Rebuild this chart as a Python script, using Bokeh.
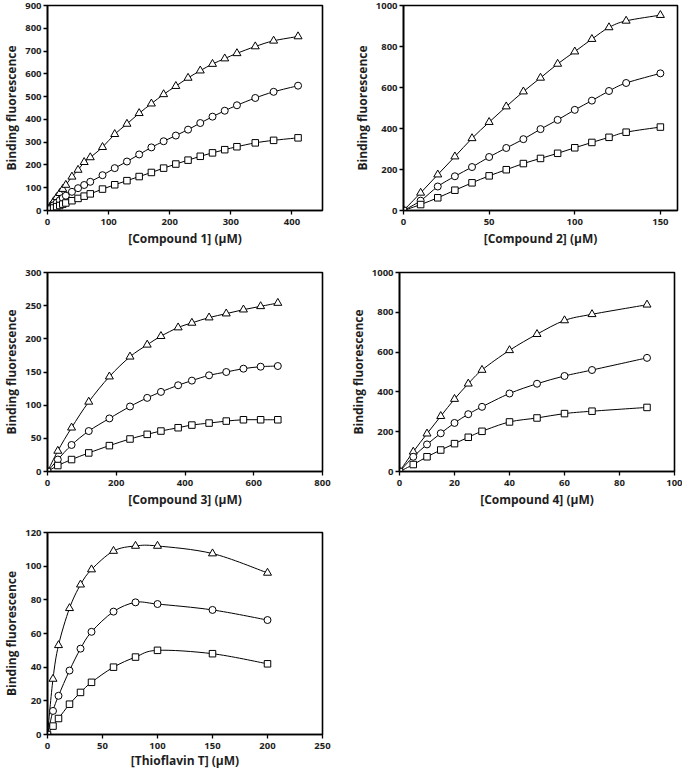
import numpy as np
from bokeh.plotting import figure
from bokeh.layouts import row, column
from bokeh.models import FixedTicker, Range1d
from bokeh.embed import file_html
from bokeh.resources import INLINE

# ---------------- data ----------------
# Compound 1
c1_x = [0, 5, 10, 15, 20, 25, 30, 40, 50, 60, 70, 90, 110, 130, 150, 170, 190, 210, 230, 250, 270, 290, 310, 340, 370, 410]
c1_tri = [0, 20, 40, 58, 76, 94, 112, 148, 178, 212, 233, 278, 335, 380, 427, 469, 510, 546, 582, 614, 643, 667, 690, 720, 745, 764]
c1_circ = [0, 12, 23, 34, 45, 55, 65, 82, 98, 112, 126, 155, 186, 215, 246, 277, 304, 329, 355, 384, 412, 438, 462, 494, 521, 548]
c1_sq = [0, 6, 11, 17, 22, 28, 33, 43, 53, 63, 73, 94, 113, 131, 149, 167, 186, 204, 221, 238, 253, 267, 280, 297, 308, 319]

# Compound 2
c2_x = [0, 10, 20, 30, 40, 50, 60, 70, 80, 90, 100, 110, 120, 130, 150]
c2_tri = [0, 86, 175, 263, 352, 431, 507, 580, 647, 715, 775, 836, 893, 925, 953]
c2_circ = [0, 48, 117, 167, 212, 261, 305, 348, 397, 442, 491, 536, 583, 622, 669]
c2_sq = [0, 29, 62, 99, 135, 169, 199, 229, 254, 279, 306, 332, 357, 382, 407]

# Compound 3
c3_x = [0, 30, 70, 120, 180, 240, 290, 330, 380, 420, 470, 520, 570, 620, 670]
c3_tri = [0, 31, 66, 105, 143, 173, 191, 204, 217, 224, 232, 238, 244, 249, 254]
c3_circ = [0, 18, 40, 61, 80, 98, 111, 120, 130, 137, 145, 150, 155, 158, 159]
c3_sq = [0, 9, 18, 28, 39, 49, 56, 61, 66, 70, 73, 76, 78, 78, 78]

# Compound 4
c4_x = [0, 5, 10, 15, 20, 25, 30, 40, 50, 60, 70, 90]
c4_tri = [0, 99, 190, 278, 364, 441, 510, 609, 690, 759, 790, 838]
c4_circ = [0, 74, 136, 192, 244, 288, 325, 392, 441, 480, 510, 571]
c4_sq = [0, 35, 74, 108, 140, 172, 202, 249, 269, 291, 303, 322]

# Thioflavin T
c5_x = [0, 5, 10, 20, 30, 40, 60, 80, 100, 150, 200]
c5_tri = [0, 33, 53, 75, 89, 98, 109, 112, 112, 107.5, 96]
c5_circ = [0, 14, 23, 38, 51, 61, 73, 78.5, 77.5, 74, 68]
c5_sq = [0, 5, 9.5, 18, 25, 31, 40, 46, 50, 48, 42]

x_labels = ["[Compound 1] (\u00b5M)", "[Compound 2] (\u00b5M)", "[Compound 3] (\u00b5M)",
            "[Compound 4] (\u00b5M)", "[Thioflavin T] (\u00b5M)"]
y_label = "Binding fluorescence"

FONT = "Open Sans"
TXT = "#1e1e1e"


def smooth(p, x, y):
    """Smoothed line through the data points (cubic Bezier segments, Catmull-Rom control points)."""
    x = np.asarray(x, float)
    y = np.asarray(y, float)
    n = len(x)
    xp = np.concatenate([[x[0]], x, [x[-1]]])
    yp = np.concatenate([[y[0]], y, [y[-1]]])
    cx0 = x[:-1] + (xp[2:n + 1] - xp[0:n - 1]) / 6.0
    cy0 = y[:-1] + (yp[2:n + 1] - yp[0:n - 1]) / 6.0
    cx1 = x[1:] - (xp[3:n + 2] - xp[1:n]) / 6.0
    cy1 = y[1:] - (yp[3:n + 2] - yp[1:n]) / 6.0
    p.bezier(x0=x[:-1], y0=y[:-1], x1=x[1:], y1=y[1:], cx0=cx0, cy0=cy0, cx1=cx1, cy1=cy1,
             line_color="black", line_width=1)


def make_fig(x, series, xr, yr, xticks, yticks, xlabel, fw, fh, lb, rb, tb, bb, xlab_standoff=2):
    p = figure(frame_width=fw, frame_height=fh, x_range=Range1d(*xr), y_range=Range1d(*yr),
               output_backend="svg", toolbar_location=None,
               min_border_left=lb, min_border_right=rb, min_border_top=tb, min_border_bottom=bb)
    p.grid.visible = False
    p.background_fill_color = "white"
    p.border_fill_color = "white"
    p.outline_line_color = "black"
    p.outline_line_width = 1.6
    p.outline_line_alpha = 1.0
    p.xaxis.ticker = FixedTicker(ticks=xticks)
    p.yaxis.ticker = FixedTicker(ticks=yticks)
    for ax in (p.xaxis[0], p.yaxis[0]):
        ax.axis_line_color = "black"
        ax.axis_line_width = 1.6
        ax.major_tick_line_color = "black"
        ax.major_tick_line_width = 1.3
        ax.major_tick_in = 0
        ax.major_tick_out = 4
        ax.minor_tick_line_color = None
        ax.major_label_text_font = FONT
        ax.major_label_text_font_style = "bold"
        ax.major_label_text_font_size = "9.5px"
        ax.major_label_text_color = TXT
        ax.axis_label_text_font = FONT
        ax.axis_label_text_font_style = "bold"
        ax.axis_label_text_font_size = "12px"
        ax.axis_label_text_color = TXT
    p.xaxis.major_label_standoff = 4
    p.xaxis.axis_label_standoff = xlab_standoff
    p.yaxis.major_label_standoff = 2
    p.yaxis.axis_label_standoff = 2
    p.xaxis.axis_label = xlabel
    p.yaxis.axis_label = y_label
    tri, circ, sq = series
    for ys in (tri, circ, sq):
        smooth(p, x, ys)
    p.scatter(x, tri, marker="triangle", size=8, fill_color="white", line_color="black", line_width=1)
    p.scatter(x, circ, marker="circle", size=7, fill_color="white", line_color="black", line_width=1)
    p.scatter(x, sq, marker="square", size=6.5, fill_color="white", line_color="black", line_width=1)
    return p


p1 = make_fig(c1_x, (c1_tri, c1_circ, c1_sq), (0, 450), (0, 900), [0, 100, 200, 300, 400],
              list(range(0, 901, 100)), x_labels[0], 275, 205, 47, 20, 5, 42)
p2 = make_fig(c2_x, (c2_tri, c2_circ, c2_sq), (0, 160), (0, 1000), [0, 50, 100, 150],
              list(range(0, 1001, 200)), x_labels[1], 274, 205, 61, 5, 5, 42)
p3 = make_fig(c3_x, (c3_tri, c3_circ, c3_sq), (0, 800), (0, 300), list(range(0, 801, 200)),
              list(range(0, 301, 50)), x_labels[2], 275, 199, 47, 20, 20, 42)
p4 = make_fig(c4_x, (c4_tri, c4_circ, c4_sq), (0, 100), (0, 1000), list(range(0, 101, 20)),
              list(range(0, 1001, 200)), x_labels[3], 275, 199, 57, 8, 20, 42)
p5 = make_fig(c5_x, (c5_tri, c5_circ, c5_sq), (0, 250), (0, 120), list(range(0, 251, 50)),
              list(range(0, 121, 20)), x_labels[4], 275, 202, 47, 20, 19, 37, xlab_standoff=0)

layout = column(row(p1, p2), row(p3, p4), row(p5))

with open("out.html", "w") as f:
    f.write(file_html(layout, INLINE))
